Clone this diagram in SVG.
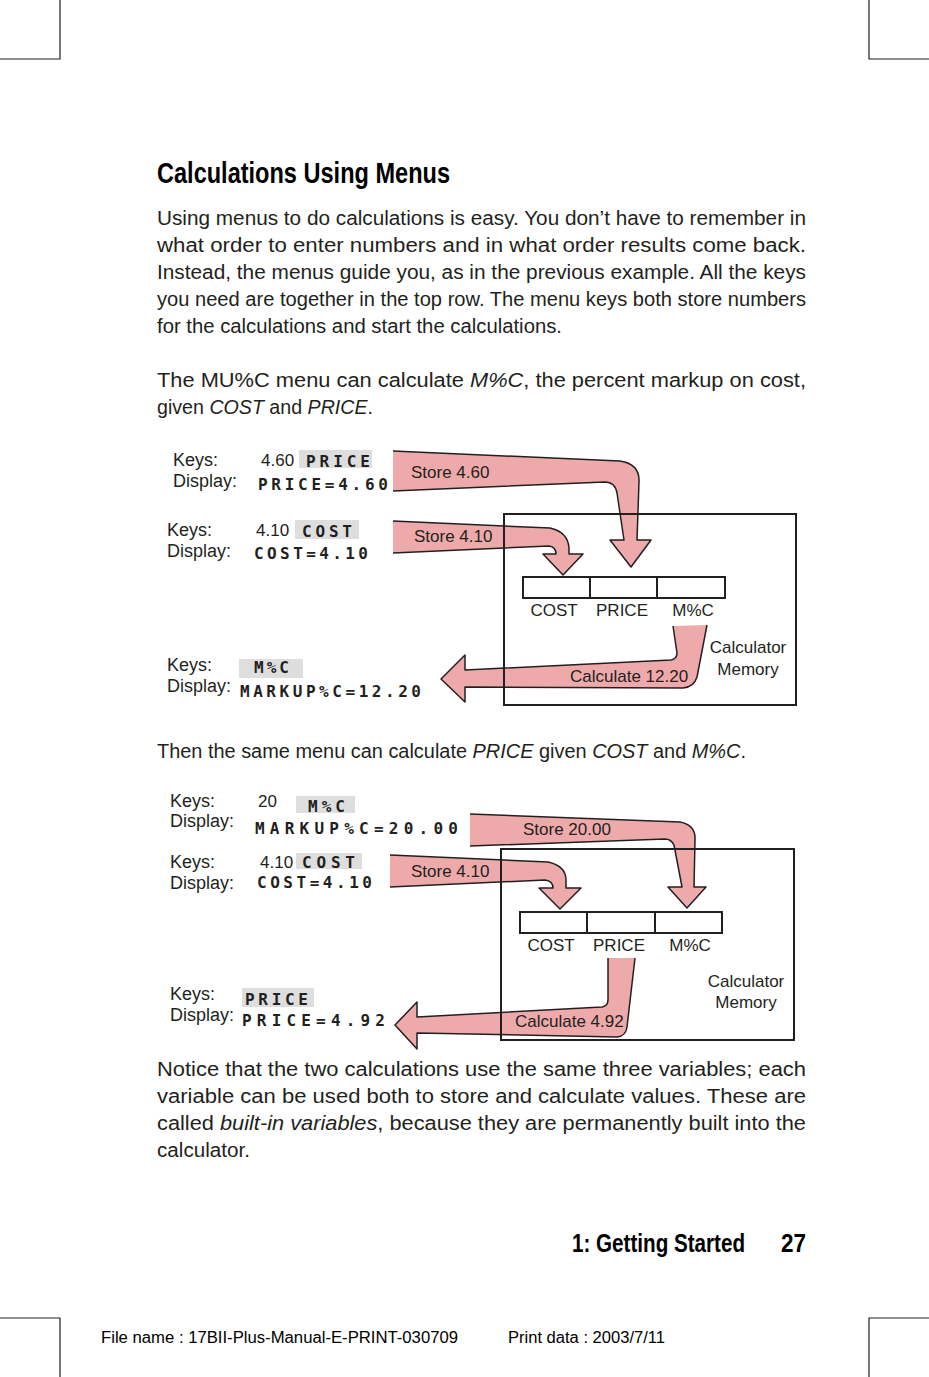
<svg xmlns="http://www.w3.org/2000/svg" width="929" height="1377" viewBox="0 0 929 1377">
<style>
.body{font-family:"Liberation Sans",Arial,sans-serif;font-size:20px;fill:#231f20}
.it{font-style:italic}
.lbl{font-family:"Liberation Sans",Arial,sans-serif;font-size:17px;fill:#231f20}
.kd{font-size:18px}
.lcd{font-family:"DejaVu Sans Mono","Liberation Mono",monospace;font-weight:bold;font-size:16px;fill:#231f20}
.key{fill:#dedede}
.arrow{fill:#eeaaaa;stroke:#231f20;stroke-width:1.5;stroke-linejoin:round}
.box{fill:none;stroke:#231f20;stroke-width:2}
.cell{fill:none;stroke:#231f20;stroke-width:2}
.mark{fill:none;stroke:#231f20;stroke-width:1.2}
.head{font-family:"Liberation Sans",Arial,sans-serif;font-weight:bold;fill:#000}
.foot{font-family:"Liberation Sans",Arial,sans-serif;font-size:16px;fill:#000}
</style>
<rect width="929" height="1377" fill="#fff"/>
<g id="cropmarks">
<path class="mark" d="M60 0V59H0M869 0V59H929M60 1377V1318H0M869 1377V1318H929"/>
</g>
<g id="text">
<text class="head" x="157" y="183" font-size="29" textLength="293" lengthAdjust="spacingAndGlyphs">Calculations Using Menus</text>
<text class="body" x="157" y="225" textLength="649" lengthAdjust="spacingAndGlyphs">Using menus to do calculations is easy. You don’t have to remember in</text>
<text class="body" x="157" y="252" textLength="649" lengthAdjust="spacingAndGlyphs">what order to enter numbers and in what order results come back.</text>
<text class="body" x="157" y="279" textLength="649" lengthAdjust="spacingAndGlyphs">Instead, the menus guide you, as in the previous example. All the keys</text>
<text class="body" x="157" y="306" textLength="649" lengthAdjust="spacingAndGlyphs">you need are together in the top row. The menu keys both store numbers</text>
<text class="body" x="157" y="333" textLength="405" lengthAdjust="spacingAndGlyphs">for the calculations and start the calculations.</text>
<text class="body" x="157" y="387" textLength="649" lengthAdjust="spacingAndGlyphs">The MU%C menu can calculate <tspan class="it">M%C</tspan>, the percent markup on cost,</text>
<text class="body" x="157" y="414" textLength="216" lengthAdjust="spacingAndGlyphs">given <tspan class="it">COST</tspan> and <tspan class="it">PRICE</tspan>.</text>
<text class="body" x="157" y="758" textLength="589" lengthAdjust="spacingAndGlyphs">Then the same menu can calculate <tspan class="it">PRICE</tspan> given <tspan class="it">COST</tspan> and <tspan class="it">M%C</tspan>.</text>
<text class="body" x="157" y="1076" textLength="649" lengthAdjust="spacingAndGlyphs">Notice that the two calculations use the same three variables; each</text>
<text class="body" x="157" y="1103" textLength="649" lengthAdjust="spacingAndGlyphs">variable can be used both to store and calculate values.  These are</text>
<text class="body" x="157" y="1130" textLength="649" lengthAdjust="spacingAndGlyphs">called <tspan class="it">built-in variables</tspan>, because they are permanently built into the</text>
<text class="body" x="157" y="1157" textLength="93" lengthAdjust="spacingAndGlyphs">calculator.</text>
<text class="head" x="572" y="1252" font-size="25" textLength="173" lengthAdjust="spacingAndGlyphs">1: Getting Started</text>
<text class="head" x="781" y="1252" font-size="25" textLength="25" lengthAdjust="spacingAndGlyphs">27</text>
<text class="foot" x="101" y="1343" textLength="357" lengthAdjust="spacingAndGlyphs">File name : 17BII-Plus-Manual-E-PRINT-030709</text>
<text class="foot" x="508" y="1343" textLength="157" lengthAdjust="spacingAndGlyphs">Print data : 2003/7/11</text>
</g>
<g id="connectors">
<path class="arrow" d="M393 451L620 461Q640 464 639 482L637 540L651 540L631 567L610 540L624 540L617 493Q615 482 605 482L393 491"/>
<path class="arrow" d="M393 521L550 528Q568 532 569 548L569 554L583 554L563 575L543 554L556 554Q556 547 549 546L393 553"/>
<path class="arrow" d="M673 626L677 653Q677 659 671 660L465 670L465 655L441 679L465 702L465 687L683 688Q694 687 697 677L707 625"/>
<path class="arrow" d="M470 814L680 822Q696 825 695 840L694 887L706 887L687 908L668 887L682 887L674 845Q671 839 665 839L470 846"/>
<path class="arrow" d="M390 855L548 862Q566 866 566 880L566 888L581 888L560 909L539 888L553 888Q553 881 545 880L390 887"/>
<path class="arrow" d="M608 958L608 1000Q608 1006 602 1007L417 1017L417 1002L395 1025L417 1049L417 1033L617 1037Q626 1036 627 1027L635 958"/>
</g>
<g id="memory1">
<rect class="box" x="504" y="514" width="292" height="191"/>
<rect class="cell" x="523" y="577" width="67" height="21"/>
<rect class="cell" x="590" y="577" width="67" height="21"/>
<rect class="cell" x="657" y="577" width="68" height="21"/>
<text class="lbl" x="554" y="616" font-size="18" text-anchor="middle">COST</text>
<text class="lbl" x="622" y="616" font-size="18" text-anchor="middle">PRICE</text>
<text class="lbl" x="693" y="616" font-size="18" text-anchor="middle">M%C</text>
<text class="lbl" x="748" y="653" text-anchor="middle">Calculator</text>
<text class="lbl" x="748" y="675" text-anchor="middle">Memory</text>
</g>
<g id="memory2">
<rect class="box" x="501" y="849" width="293" height="191"/>
<rect class="cell" x="520" y="912" width="67" height="21"/>
<rect class="cell" x="587" y="912" width="68" height="21"/>
<rect class="cell" x="655" y="912" width="67" height="21"/>
<text class="lbl" x="551" y="951" font-size="18" text-anchor="middle">COST</text>
<text class="lbl" x="619" y="951" font-size="18" text-anchor="middle">PRICE</text>
<text class="lbl" x="690" y="951" font-size="18" text-anchor="middle">M%C</text>
<text class="lbl" x="746" y="987" text-anchor="middle">Calculator</text>
<text class="lbl" x="746" y="1008" text-anchor="middle">Memory</text>
</g>
<g id="arrow-labels">
<text class="lbl" x="411" y="478" font-size="18">Store 4.60</text>
<text class="lbl" x="414" y="542" font-size="18">Store 4.10</text>
<text class="lbl" x="570" y="682" font-size="17">Calculate 12.20</text>
<text class="lbl" x="523" y="835" font-size="16">Store 20.00</text>
<text class="lbl" x="411" y="877" font-size="16">Store 4.10</text>
<text class="lbl" x="515" y="1027" font-size="15">Calculate 4.92</text>
</g>
<g id="step1">
<text class="lbl kd" x="173" y="466">Keys:</text>
<text class="lbl kd" x="173" y="487">Display:</text>
<text class="lbl" x="261" y="466" font-size="18">4.60</text>
<rect class="key" x="299" y="450" width="73" height="18"/>
<text class="lcd" x="306" y="467" textLength="64" lengthAdjust="spacing">PRICE</text>
<text class="lcd" x="258" y="490" textLength="130" lengthAdjust="spacing">PRICE=4.60</text>
</g>
<g id="step2">
<text class="lbl kd" x="167" y="536">Keys:</text>
<text class="lbl kd" x="167" y="557">Display:</text>
<text class="lbl" x="256" y="536" font-size="18">4.10</text>
<rect class="key" x="295" y="520" width="64" height="19"/>
<text class="lcd" x="302" y="536.5" textLength="50" lengthAdjust="spacing">COST</text>
<text class="lcd" x="254" y="559" textLength="114" lengthAdjust="spacing">COST=4.10</text>
</g>
<g id="step3">
<text class="lbl kd" x="167" y="671">Keys:</text>
<text class="lbl kd" x="167" y="692">Display:</text>
<rect class="key" x="239" y="659" width="64" height="19"/>
<text class="lcd" x="254" y="673" textLength="35" lengthAdjust="spacing">M%C</text>
<text class="lcd" x="240" y="697" textLength="181" lengthAdjust="spacing">MARKUP%C=12.20</text>
</g>
<g id="step4">
<text class="lbl kd" x="170" y="807">Keys:</text>
<text class="lbl kd" x="170" y="827">Display:</text>
<text class="lbl" x="258" y="807" font-size="18">20</text>
<rect class="key" x="296" y="796" width="59" height="17"/>
<text class="lcd" x="308" y="811.5" textLength="37" lengthAdjust="spacing">M%C</text>
<text class="lcd" x="255" y="834" textLength="203" lengthAdjust="spacing">MARKUP%C=20.00</text>
</g>
<g id="step5">
<text class="lbl kd" x="170" y="868">Keys:</text>
<text class="lbl kd" x="170" y="889">Display:</text>
<text class="lbl" x="260" y="868" font-size="18">4.10</text>
<rect class="key" x="296" y="853" width="66" height="16"/>
<text class="lcd" x="302" y="868" textLength="53" lengthAdjust="spacing">COST</text>
<text class="lcd" x="257" y="888" textLength="115" lengthAdjust="spacing">COST=4.10</text>
</g>
<g id="step6">
<text class="lbl kd" x="170" y="1000">Keys:</text>
<text class="lbl kd" x="170" y="1021">Display:</text>
<rect class="key" x="242" y="988" width="72" height="19"/>
<text class="lcd" x="245" y="1005" textLength="63" lengthAdjust="spacing">PRICE</text>
<text class="lcd" x="242" y="1026" textLength="143" lengthAdjust="spacing">PRICE=4.92</text>
</g>
</svg>
